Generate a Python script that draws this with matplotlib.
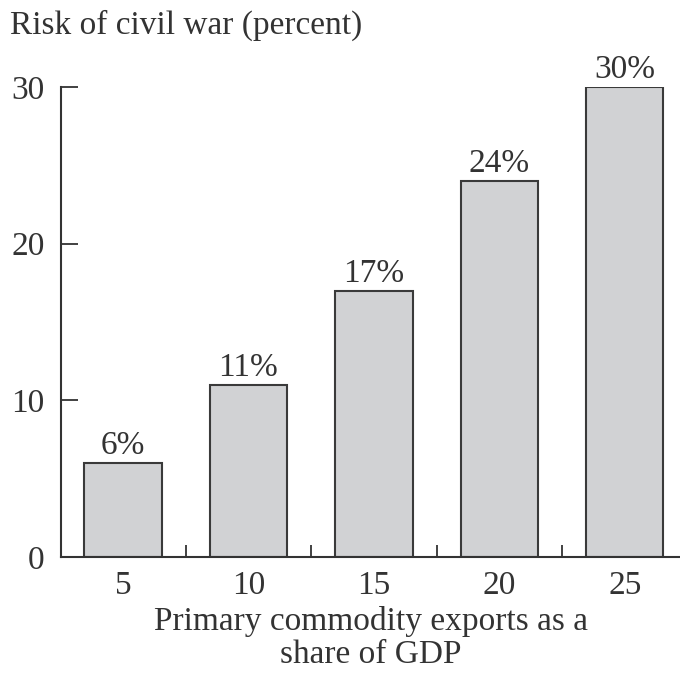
import matplotlib
matplotlib.use("Agg")
import matplotlib.pyplot as plt
from matplotlib.ticker import FixedLocator

# Primary commodity exports (share of GDP) vs. risk of civil war
export_share = [5, 10, 15, 20, 25]
risk_percent = [6, 11, 17, 24, 30]
y_ticks = [0, 10, 20, 30]
between_ticks = [7.5, 12.5, 17.5, 22.5]
x_title_lines = ["Primary commodity exports as a", "share of GDP"]
y_title = "Risk of civil war (percent)"

plt.rcParams["font.family"] = ["Liberation Serif", "DejaVu Serif"]
FS = 24
INK = "#333333"
W, H = 680, 674

fig = plt.figure(figsize=(W / 100, H / 100), dpi=100)
ax = fig.add_axes([0.0904, 0.1736, 0.9096, 0.6974])

ax.bar(export_share, risk_percent, width=3.08, color="#d1d2d4",
       edgecolor="#3a3a3a", linewidth=1.5, zorder=2)

for x, v in zip(export_share, risk_percent):
    ax.annotate(f"{v}%", (x, v), xytext=(0, 6.5), textcoords="offset points",
                ha="center", va="baseline", fontsize=FS, color=INK)

ax.set_xlim(2.55, 27.2)
ax.set_ylim(0, 30)

ax.set_yticks(y_ticks)
ax.tick_params(axis="y", direction="in", length=12, width=1.3, pad=12,
               labelsize=FS, colors=INK)

ax.set_xticks(export_share)
ax.tick_params(axis="x", which="major", length=0, pad=10, labelsize=FS,
               colors=INK)
ax.xaxis.set_minor_locator(FixedLocator(between_ticks))
ax.tick_params(axis="x", which="minor", direction="in", length=9, width=1.3,
               color=INK)

for side in ("top", "right"):
    ax.spines[side].set_visible(False)
for side in ("left", "bottom"):
    ax.spines[side].set_linewidth(1.5)
    ax.spines[side].set_color(INK)

# Two-line axis title under the tick labels
x_mid = (0.0904 + 1.0) / 2
for line, base_px in zip(x_title_lines, [630, 663]):
    fig.text(x_mid, 1 - base_px / H, line, fontsize=FS, color=INK,
             ha="center", va="baseline")

fig.text(10 / W, 1 - 34 / H, y_title, fontsize=FS, color=INK,
         ha="left", va="baseline")

fig.savefig("out.png", dpi=100, facecolor="white")
